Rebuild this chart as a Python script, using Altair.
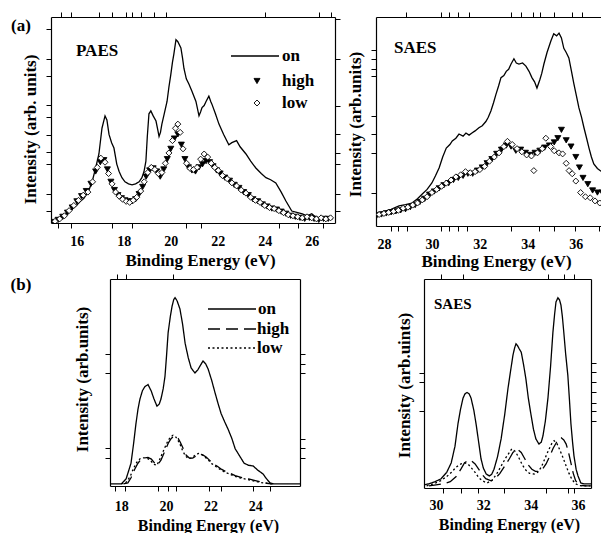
import altair as alt
import pandas as pd

SERIF = "Liberation Serif"

# ---------------- (a) PAES ----------------
tl_on_E = [14.9, 15.1, 15.3, 15.54, 15.75, 15.96, 16.15, 16.3, 16.5, 16.65,
           16.8, 16.94, 17.07, 17.2, 17.28, 17.37, 17.48, 17.58, 17.7, 17.8,
           17.92, 18.05, 18.2, 18.35, 18.5, 18.65, 18.77, 18.86, 18.94, 19.0,
           19.07, 19.15, 19.25, 19.37, 19.45, 19.5, 19.56, 19.62, 19.72, 19.84,
           19.92, 20.0, 20.07, 20.13, 20.22, 20.3, 20.43, 20.5, 20.56, 20.66,
           20.77, 20.9, 21.07, 21.2, 21.27, 21.33, 21.42, 21.5, 21.62, 21.7,
           21.75, 21.9, 22.05, 22.25, 22.47, 22.6, 22.8, 22.95, 23.2, 23.4,
           23.62, 23.85, 24.05, 24.25, 24.47, 24.7, 24.9, 25.15, 25.4, 25.6,
           25.8, 26.0, 26.2, 26.4, 26.6, 26.9]
tl_on_I = [0, 1.5, 3, 4.4, 6.5, 8.3, 10.5, 12, 15.5, 20,
           26.7, 33.5, 46, 52, 50, 43, 39, 36.4, 28.6, 25,
           22, 20, 19, 18.5, 19, 20, 22, 25, 30, 42,
           53, 54.4, 52, 49.5, 45, 42, 44, 48, 53, 59,
           66, 72, 78, 82, 89, 88, 85, 80, 75, 70,
           67.5, 64, 59, 52, 54, 56, 57, 59, 61.6, 59,
           57.7, 53, 48, 43, 38, 39, 40, 37, 33.5, 30,
           26.7, 24, 22, 21, 19.4, 15, 10.7, 5.8, 5, 4.4,
           3.5, 4.5, 2.5, 2, 2.5, 2]

tl_high_E = [15.0, 15.2, 15.4, 15.6, 15.8, 16.0, 16.2, 16.4, 16.6, 16.8,
             17.0, 17.15, 17.3, 17.45, 17.6, 17.75, 17.9, 18.05, 18.2, 18.35,
             18.5, 18.65, 18.8, 18.95, 19.1, 19.25, 19.4, 19.55, 19.7, 19.85,
             20.0, 20.15, 20.3, 20.45, 20.6, 20.75, 20.9, 21.05, 21.2, 21.35,
             21.5, 21.65, 21.8, 21.95, 22.1, 22.3, 22.5, 22.7, 22.9, 23.1,
             23.3, 23.5, 23.7, 23.9, 24.1, 24.3, 24.5, 24.7, 24.9, 25.1,
             25.3, 25.5, 25.7, 25.9, 26.1, 26.3, 26.5, 26.7]
tl_high_I = [0.5, 1.5, 3, 5, 7.5, 10.5, 13, 15.5, 19, 25,
             29.5, 30.5, 26, 20, 16, 13.5, 12, 11, 10.5, 10.5,
             11.5, 14, 17.5, 22.5, 25.5, 26.5, 25, 22.5, 26, 31,
             36, 41, 43, 38, 31, 27, 25.5, 25, 27, 28.5,
             30, 29.5, 27.5, 25.5, 24, 22, 20.5, 18.5, 17, 15,
             13.5, 11.5, 10.5, 9, 8, 7, 6.5, 5.5, 4.5, 3.5,
             3, 2.5, 2, 2.5, 2, 1.5, 2, 2]

tl_low_E = [15.07, 15.27, 15.47, 15.67, 15.87, 16.07, 16.27, 16.47, 16.67, 16.87,
            17.02, 17.2, 17.35, 17.5, 17.65, 17.8, 17.95, 18.1, 18.25, 18.4,
            18.55, 18.72, 18.87, 19.02, 19.17, 19.32, 19.47, 19.62, 19.77, 19.92,
            20.07, 20.2, 20.3, 20.4, 20.52, 20.67, 20.82, 20.97, 21.12, 21.27,
            21.42, 21.57, 21.72, 21.87, 22.02, 22.2, 22.4, 22.6, 22.8, 23.0,
            23.2, 23.4, 23.6, 23.8, 24.0, 24.2, 24.4, 24.6, 24.8, 25.0,
            25.2, 25.4, 25.6, 25.8, 26.0, 26.2, 26.4, 26.6, 26.8]
tl_low_I = [0.8, 2, 3.5, 6, 8.5, 11, 13.5, 15, 20, 27,
            31.5, 29.5, 24, 19, 15, 13, 11.5, 10.5, 10, 11,
            12.5, 15.5, 20, 24.5, 27, 26, 24, 24.5, 29, 34,
            40, 46, 48, 44, 36, 29, 26.5, 26, 27, 31,
            33.5, 32, 29, 27, 25.5, 23, 21.5, 19.5, 18, 16,
            14.5, 12.5, 11, 10, 8.5, 7.5, 7, 6, 5, 4,
            3.5, 3, 2.5, 3, 2.5, 2, 2.5, 2, 2.5]

# ---------------- (a) SAES ----------------
tr_on_E = [27.7, 27.9, 28.08, 28.3, 28.63, 28.9, 29.17, 29.4, 29.6, 29.8,
           30.0, 30.15, 30.3, 30.45, 30.6, 30.75, 30.85, 31.0, 31.13, 31.3,
           31.42, 31.55, 31.67, 31.8, 31.96, 32.1, 32.25, 32.35, 32.46, 32.57,
           32.67, 32.78, 32.88, 33.0, 33.1, 33.2, 33.3, 33.42, 33.52, 33.63,
           33.78, 33.92, 34.05, 34.17, 34.28, 34.38, 34.5, 34.58, 34.67, 34.8,
           34.96, 35.08, 35.2, 35.3, 35.4, 35.5, 35.6, 35.71, 35.82, 35.92,
           36.03, 36.13, 36.24, 36.34, 36.45, 36.55, 36.65, 36.75, 36.9, 37.04,
           37.15, 37.25, 37.35, 37.46]
tr_on_I = [6.2, 6.8, 7.2, 8, 9.6, 10.2, 11, 13, 15.3, 17.5,
           20.6, 24, 27.8, 33, 37.3, 39, 40.7, 42, 44, 43,
           44.5, 43.5, 44.5, 45.5, 47, 48, 50, 52, 55, 59,
           63, 67, 71, 72, 74, 75, 77.5, 80, 78, 77.5,
           78, 76.5, 74, 71, 69, 66, 70, 73, 77.5, 83,
           88.5, 92, 91, 92.3, 90, 85, 83, 80.4, 74, 68,
           62, 56.5, 52, 47, 42, 37.3, 33, 29.7, 27.5, 26.3,
           27, 25.4, 26, 27.3]

tr_high_E = [27.7, 27.9, 28.1, 28.3, 28.5, 28.7, 28.9, 29.1, 29.3, 29.5,
             29.7, 29.9, 30.1, 30.3, 30.5, 30.7, 30.9, 31.1, 31.3, 31.5,
             31.7, 31.9, 32.1, 32.3, 32.5, 32.7, 32.9, 33.1, 33.3, 33.5,
             33.7, 33.9, 34.1, 34.3, 34.5, 34.7, 34.9, 35.1, 35.25, 35.4,
             35.6, 35.8, 36.0, 36.15, 36.3, 36.5, 36.7, 36.9, 37.1, 37.3,
             37.5]
tr_high_I = [5, 5.5, 6, 6.5, 7, 7.5, 8, 9, 10, 11.5,
             13, 15, 16.5, 18, 19.5, 20.5, 22, 23, 24, 25,
             25, 26.5, 28, 30, 32, 34.5, 36.5, 38.5, 38, 36,
             36.5, 35, 34, 35, 36, 37.5, 38.5, 40, 42, 46,
             41, 38, 33, 28, 23, 20, 17, 16, 16, 15.5,
             16]

tr_low_E = [27.8, 28.0, 28.2, 28.4, 28.6, 28.8, 29.0, 29.2, 29.4, 29.6,
            29.8, 30.0, 30.2, 30.4, 30.6, 30.8, 31.0, 31.2, 31.4, 31.6,
            31.8, 32.0, 32.2, 32.4, 32.6, 32.8, 33.0, 33.15, 33.35, 33.55,
            33.75, 33.95, 34.15, 34.25, 34.4, 34.6, 34.75, 34.95, 35.1, 35.3,
            35.45, 35.6, 35.72, 35.85, 36.0, 36.2, 36.4, 36.6, 36.8, 37.0,
            37.2, 37.4]
tr_low_I = [5.5, 6, 6.5, 7, 7.5, 8.5, 9, 10, 11, 12.5,
            14, 16, 17.5, 19, 20.5, 22, 23.5, 24.5, 26, 25.5,
            26, 27, 28.5, 31, 33, 35, 38, 40.5, 39, 37,
            35.5, 34, 33.5, 26.5, 35, 37, 42, 38, 36, 35,
            34.5, 30, 26.5, 25, 21.5, 16, 14, 13.5, 12, 11,
            13, 11.5]

# ---------------- (b) PAES model ----------------
bl_on_E = [17.5, 17.8, 18.0, 18.22, 18.44, 18.55, 18.66, 18.75, 18.84, 18.95,
           19.06, 19.2, 19.34, 19.47, 19.6, 19.7, 19.78, 19.88, 19.96, 20.03,
           20.1, 20.2, 20.28, 20.35, 20.41, 20.5, 20.63, 20.75, 20.86, 21.0,
           21.13, 21.3, 21.42, 21.53, 21.66, 21.78, 21.89, 22.05, 22.2, 22.33,
           22.47, 22.63, 22.78, 22.95, 23.1, 23.3, 23.5, 23.7, 23.9, 24.13,
           24.35, 24.5, 24.66, 24.85, 25.2, 25.6, 26.0]
bl_on_I = [1, 1, 1, 3.4, 11, 20, 30, 37, 42, 46,
           48, 49, 46, 42, 38.6, 39.5, 42, 47, 53, 63,
           74, 82, 87, 90, 91, 89.5, 85.5, 78, 69, 62,
           57, 54.6, 56, 58, 60.4, 59, 56.5, 51, 45, 40,
           35, 31, 27.5, 23, 18, 14.5, 11, 10, 9.7, 7.5,
           5.8, 3.5, 1.5, 1, 1, 1, 1]

bl_high_E = [18.1, 18.3, 18.44, 18.6, 18.75, 18.9, 19.05, 19.2, 19.35, 19.5,
             19.62, 19.78, 19.9, 20.0, 20.12, 20.24, 20.35, 20.45, 20.55, 20.65,
             20.78, 20.9, 21.05, 21.2, 21.35, 21.5, 21.65, 21.8, 21.95, 22.1,
             22.3, 22.5, 22.7, 22.9, 23.1, 23.4, 23.7, 24.0, 24.3, 24.6,
             24.8]
bl_high_I = [1, 1.5, 4, 8, 11, 13, 13.5, 13.8, 13, 11,
             10, 12.5, 15.5, 18, 21, 23, 24, 24, 23, 21,
             18, 15, 13.5, 13.5, 14.5, 15.5, 15, 14, 12.5, 11,
             9.5, 8, 6.8, 6, 5, 4, 3.4, 2.6, 1.8, 1.2,
             1]

bl_low_E = [18.0, 18.2, 18.4, 18.55, 18.7, 18.85, 19.0, 19.15, 19.3, 19.45,
            19.6, 19.72, 19.85, 19.97, 20.1, 20.22, 20.32, 20.42, 20.52, 20.62,
            20.75, 20.88, 21.0, 21.15, 21.3, 21.45, 21.6, 21.75, 21.9, 22.05,
            22.25, 22.45, 22.65, 22.85, 23.05, 23.35, 23.65, 23.95, 24.25, 24.55,
            24.75]
bl_low_I = [1, 1.5, 4.5, 8.5, 11.5, 13.2, 13.6, 13.5, 12.5, 10.5,
            10, 12.8, 16, 19, 22, 23.8, 24.5, 24, 22.5, 20.5,
            17, 14.5, 13.2, 13.5, 14.8, 15.7, 15.2, 14, 12.5, 10.8,
            9.3, 7.8, 6.6, 5.8, 4.8, 3.8, 3.2, 2.4, 1.7, 1.2,
            1]

# ---------------- (b) SAES model ----------------
br_on_E = [29.5, 29.7, 29.95, 30.2, 30.45, 30.64, 30.8, 30.93, 31.04, 31.14,
           31.22, 31.31, 31.4, 31.48, 31.6, 31.7, 31.8, 31.9, 32.0, 32.12,
           32.25, 32.35, 32.45, 32.6, 32.75, 32.9, 33.04, 33.15, 33.25, 33.32,
           33.38, 33.45, 33.52, 33.6, 33.7, 33.8, 33.9, 34.02, 34.12, 34.22,
           34.35, 34.45, 34.52, 34.62, 34.73, 34.84, 34.94, 35.01, 35.07, 35.15,
           35.22, 35.28, 35.34, 35.4, 35.48, 35.57, 35.64, 35.7, 35.77, 35.83,
           35.92, 36.0, 36.12, 36.25, 36.4, 36.55]
br_on_I = [1.5, 2, 3, 4.3, 7.5, 12, 20, 31, 38, 43,
           45, 45.7, 45, 43, 37, 30, 22, 14, 9.5, 6.7,
           5.8, 6.5, 9, 15, 23.5, 35, 47.6, 56, 63.5, 67,
           69, 68, 66.5, 65, 59, 52, 43, 34.6, 28, 23.5,
           21, 22, 25, 32, 43, 58, 74.5, 83, 89, 91,
           90, 87.5, 82, 74.5, 64, 54, 42, 31, 22, 15.4,
           9, 5.8, 2.4, 2, 2, 2]

br_high_E = [29.7, 30.0, 30.3, 30.6, 30.85, 31.05, 31.2, 31.35, 31.5, 31.65,
             31.8, 31.95, 32.1, 32.33, 32.5, 32.7, 32.9, 33.1, 33.25, 33.43,
             33.6, 33.75, 33.9, 34.05, 34.2, 34.35, 34.5, 34.65, 34.8, 34.95,
             35.1, 35.2, 35.29, 35.4, 35.5, 35.6, 35.7, 35.8, 35.9, 36.0,
             36.15, 36.35, 36.55]
br_high_I = [1, 1.5, 2, 3, 5.5, 9, 12, 13.2, 13, 11.5,
             9, 6.5, 4.5, 3.4, 4.5, 7, 10.5, 14, 17, 18.7,
             17, 14, 11, 9, 8, 8, 9, 11.5, 15, 19,
             22, 23.5, 24, 23, 21, 17, 12, 7, 3.5, 2,
             1.2, 1, 1]

br_low_E = [29.6, 29.9, 30.2, 30.45, 30.65, 30.85, 31.05, 31.2, 31.35, 31.5,
            31.65, 31.8, 31.95, 32.15, 32.35, 32.55, 32.75, 32.95, 33.1, 33.2,
            33.35, 33.5, 33.65, 33.8, 33.95, 34.15, 34.3, 34.45, 34.6, 34.75,
            34.9, 34.99, 35.1, 35.2, 35.35, 35.5, 35.62, 35.75, 35.9, 36.05,
            36.25, 36.5]
br_low_I = [1, 2, 3.5, 5.5, 7.5, 10, 11.5, 12, 11.5, 9.5,
            7.5, 5, 3.5, 2.4, 3.5, 6.5, 10.5, 14.5, 17, 18.7,
            17.5, 14.5, 11, 8.5, 7, 6.7, 7.5, 10, 14, 18,
            21.5, 22.6, 21.5, 19, 15, 10.5, 7, 4, 2, 1.2,
            1, 1]

# ---------------- axis tick positions and labels ----------------
tl_x_labels = [16, 18, 20, 22, 24, 26]
tl_x_bottom = [15.2, 15.75, 17.5, 18.35, 20.65, 21.3, 24.6, 25.4, 26.5]
tl_x_top = [15.33, 15.75, 16.94, 17.5, 18.1, 18.35, 18.72, 19.27, 19.8, 24.0, 26.3, 26.8]
tl_y_left = [94.2, 79.6, 71.4, 57.3, 51.5, 42.7, 34.5, 28.6, 14.1, 5.8]
tl_y_right = [99, 79.6, 56.8, 43.2, 34, 28.6, 14.1, 5.8]

tr_x_labels = [28, 30, 32, 34, 36]
tr_x_bottom = [28.3, 28.6, 28.96, 30.4, 30.7, 31.1, 31.46, 33.3, 34.46, 35.1, 35.95, 36.96]
tr_x_top = [28.9, 30.4, 30.7, 31.1, 31.55, 33.3, 33.7, 34.2, 34.5, 35.1, 35.83, 36.25]
tr_y_left = [84, 80, 75, 71.8, 52.6, 44, 35, 15.8]

bl_x_labels = [18, 20, 22, 24]
bl_x_bottom = [17.72, 18.17, 19.65, 20.1, 20.45, 21.95, 22.46, 23.9, 24.65]
bl_x_top = [17.8, 18.2, 20.3]
bl_y_left = [63.8, 54.6, 18.4, 13.5]
bl_y_right = [63.8, 59, 54.6, 22.7, 18.4, 13.5]

br_x_labels = [30, 32, 34, 36]
br_x_bottom = [30.3, 31.06, 31.78, 32.88, 34.66, 35.58, 35.83]
br_x_top = [30.2, 31.15, 34.74, 35.4, 35.83]
br_y_left = [55, 50.5, 37]
br_y_right = [59.6, 55.3, 50.5, 45.7, 40.9, 37, 32.2]

X_TITLE = "Binding Energy (eV)"
legend_names = ["on", "high", "low"]
panel_tags = ["(a)", "(b)"]


def series_df(E, I, name):
    return pd.DataFrame({"E": E, "I": I, "series": [name] * len(E)})


def make_axis(orient, ticks, labels=None, title=None, title_pad=6, label_pad=6,
              title_x=None, title_y=None, tick_size=5, title_size=17):
    p = dict(orient=orient, grid=False, domain=True, domainColor="black",
             domainWidth=1.2, ticks=True, tickColor="black", tickWidth=1,
             tickSize=tick_size, title=title)
    if labels:
        vals = sorted(set(ticks) | set(labels))
        arr = "[" + ",".join(str(v) for v in labels) + "]"
        test = f"indexof({arr}, datum.value) >= 0"
        p.update(values=vals, labels=True,
                 labelExpr=f"{test} ? format(datum.value, '.0f') : ''",
                 tickOpacity={"condition": {"test": test, "value": 0}, "value": 1},
                 labelFont=SERIF, labelFontSize=14, labelFontWeight="bold",
                 labelColor="black", labelPadding=label_pad,
                 labelOverlap=False, labelFlush=False)
    else:
        p.update(values=ticks, labels=False)
    if title:
        p.update(titleFont=SERIF, titleFontSize=title_size, titleFontWeight="bold",
                 titleColor="black", titlePadding=title_pad)
        if title_x is not None:
            p["titleX"] = title_x
        if title_y is not None:
            p["titleY"] = title_y
    return alt.Axis(**p)


def one():
    return alt.Chart(pd.DataFrame({"k": [0]}))


def note(text, x, y, size, align="left"):
    return alt.Chart(pd.DataFrame({"t": [text]})).mark_text(
        font=SERIF, fontSize=size, fontWeight="bold", color="black",
        align=align, baseline="middle"
    ).encode(text="t:N", x=alt.value(x), y=alt.value(y))


def key_line(x1, x2, y, dash):
    return one().mark_rule(color="black", strokeWidth=1.3, strokeDash=dash).encode(
        x=alt.value(x1), x2=alt.value(x2), y=alt.value(y))


def key_symbol(x, y, shape, fill):
    return one().mark_point(shape=shape, size=36, fill=fill, stroke="black",
                            strokeWidth=0.9, opacity=1, filled=True).encode(
        x=alt.value(x), y=alt.value(y))


Y_SCALE = alt.Scale(domain=[0, 100], nice=False, zero=False)
DASHES = alt.Scale(domain=["on", "high", "low"], range=[[1, 0], [12, 6], [2, 2.5]])


def points_layer(df, xs):
    return alt.Chart(df).mark_point(size=36, strokeWidth=0.9, opacity=1,
                                    stroke="black", clip=True).encode(
        x=alt.X("E:Q", scale=xs, axis=None),
        y=alt.Y("I:Q", scale=Y_SCALE, axis=None),
        shape=alt.Shape("series:N", scale=alt.Scale(domain=["high", "low"],
                        range=["triangle-down", "diamond"]), legend=None),
        fill=alt.Fill("series:N", scale=alt.Scale(domain=["high", "low"],
                      range=["black", "white"]), legend=None),
    )


# ---------- top-left panel ----------
tl_xs = alt.Scale(domain=[14.9, 26.99], nice=False, zero=False)
tl_lines = series_df(tl_on_E, tl_on_I, "on")
tl_pts = pd.concat([series_df(tl_high_E, tl_high_I, "high"),
                    series_df(tl_low_E, tl_low_I, "low")])

tl_line = alt.Chart(tl_lines).mark_line(color="black", strokeWidth=1.3, clip=True).encode(
    x=alt.X("E:Q", scale=tl_xs,
            axis=make_axis("bottom", tl_x_bottom, tl_x_labels, X_TITLE,
                           title_pad=4, label_pad=6, title_x=149)),
    y=alt.Y("I:Q", scale=Y_SCALE,
            axis=make_axis("left", tl_y_left, title="Intensity (arb. units)",
                           title_pad=6, title_y=112)),
)
tl_frame = alt.Chart(tl_lines).mark_line(strokeOpacity=0, clip=True).encode(
    x=alt.X("E:Q", scale=tl_xs, axis=make_axis("top", tl_x_top)),
    y=alt.Y("I:Q", scale=Y_SCALE, axis=make_axis("right", tl_y_right)),
)
tl = alt.layer(
    tl_line, points_layer(tl_pts, tl_xs), tl_frame,
    note(panel_tags[0], -30, 9, 17, "center"), note("PAES", 25, 34, 17),
    key_line(180, 228, 39, [1, 0]), note(legend_names[0], 231, 39, 17),
    key_symbol(206, 64, "triangle-down", "black"), note(legend_names[1], 231, 64, 17),
    key_symbol(206, 86, "diamond", "white"), note(legend_names[2], 231, 86, 17),
).resolve_axis(x="independent", y="independent").properties(width=284, height=206)

# ---------- top-right panel ----------
tr_xs = alt.Scale(domain=[27.67, 37.05], nice=False, zero=False)
tr_lines = series_df(tr_on_E, tr_on_I, "on")
tr_pts = pd.concat([series_df(tr_high_E, tr_high_I, "high"),
                    series_df(tr_low_E, tr_low_I, "low")])

tr_line = alt.Chart(tr_lines).mark_line(color="black", strokeWidth=1.3, clip=True).encode(
    x=alt.X("E:Q", scale=tr_xs,
            axis=make_axis("bottom", tr_x_bottom, tr_x_labels, X_TITLE,
                           title_pad=2, label_pad=6, title_x=120)),
    y=alt.Y("I:Q", scale=Y_SCALE,
            axis=make_axis("left", tr_y_left, title="Intensity (arb.units)",
                           title_pad=6, title_y=107)),
)
tr_frame = alt.Chart(tr_lines).mark_line(strokeOpacity=0, clip=True).encode(
    x=alt.X("E:Q", scale=tr_xs, axis=make_axis("top", tr_x_top)),
    y=alt.Y("I:Q", scale=Y_SCALE, axis=None),
)
tr = alt.layer(
    tr_line, points_layer(tr_pts, tr_xs), tr_frame,
    note("SAES", 18, 31, 17),
).resolve_axis(x="independent", y="independent").properties(width=225, height=209)

# ---------- bottom-left panel ----------
bl_xs = alt.Scale(domain=[17.5, 26.0], nice=False, zero=False)
bl_lines = pd.concat([series_df(bl_on_E, bl_on_I, "on"),
                      series_df(bl_high_E, bl_high_I, "high"),
                      series_df(bl_low_E, bl_low_I, "low")])

bl_line = alt.Chart(bl_lines).mark_line(color="black", strokeWidth=1.3, clip=True).encode(
    x=alt.X("E:Q", scale=bl_xs,
            axis=make_axis("bottom", bl_x_bottom, bl_x_labels, X_TITLE,
                           title_pad=4, label_pad=8, title_x=98, title_size=16)),
    y=alt.Y("I:Q", scale=Y_SCALE,
            axis=make_axis("left", bl_y_left, title="Intensity (arb.units)",
                           title_pad=13, title_y=100)),
    strokeDash=alt.StrokeDash("series:N", scale=DASHES, legend=None),
)
bl_frame = alt.Chart(bl_lines).mark_line(strokeOpacity=0, clip=True).encode(
    x=alt.X("E:Q", scale=bl_xs, axis=make_axis("top", bl_x_top)),
    y=alt.Y("I:Q", scale=Y_SCALE, axis=make_axis("right", bl_y_right)),
)
bl = alt.layer(
    bl_line, bl_frame,
    key_line(98, 146, 30, [1, 0]), note(legend_names[0], 148, 30, 17),
    key_line(98, 146, 50, [12, 6]), note(legend_names[1], 147, 50, 17),
    key_line(98, 146, 69, [2, 2.5]), note(legend_names[2], 147, 69, 17),
).resolve_axis(x="independent", y="independent").properties(width=190, height=207)

# ---------- bottom-right panel ----------
br_xs = alt.Scale(domain=[29.49, 36.55], nice=False, zero=False)
br_lines = pd.concat([series_df(br_on_E, br_on_I, "on"),
                      series_df(br_high_E, br_high_I, "high"),
                      series_df(br_low_E, br_low_I, "low")])

br_line = alt.Chart(br_lines).mark_line(color="black", strokeWidth=1.3, clip=True).encode(
    x=alt.X("E:Q", scale=br_xs,
            axis=make_axis("bottom", br_x_bottom, br_x_labels, X_TITLE,
                           title_pad=4, label_pad=5, title_x=85, title_size=16)),
    y=alt.Y("I:Q", scale=Y_SCALE,
            axis=make_axis("left", br_y_left, title="Intensity (arb.uints)",
                           title_pad=5, title_y=106)),
    strokeDash=alt.StrokeDash("series:N", scale=DASHES, legend=None),
)
br_frame = alt.Chart(br_lines).mark_line(strokeOpacity=0, clip=True).encode(
    x=alt.X("E:Q", scale=br_xs, axis=make_axis("top", br_x_top)),
    y=alt.Y("I:Q", scale=Y_SCALE, axis=make_axis("right", br_y_right)),
)
br = alt.layer(
    br_line, br_frame, note("SAES", 10, 25, 15),
).resolve_axis(x="independent", y="independent").properties(width=167, height=209)

# first cell of the lower row: carries the "(b)" tag and shifts the lower panels right
spacer = alt.layer(
    one().mark_point(opacity=0).encode(x=alt.value(0), y=alt.value(0)),
    note(panel_tags[1], -30, 5.5, 17, "center"),
).properties(width=22, height=207)

IND = dict(strokeDash="independent", shape="independent", fill="independent")
row1 = alt.hconcat(tl, tr, spacing=5).resolve_scale(**IND)
pair2 = alt.hconcat(bl, br, spacing=89).resolve_scale(**IND)
row2 = alt.hconcat(spacer, pair2, spacing=0).resolve_scale(**IND)

chart = alt.vconcat(row1, row2, spacing=4).resolve_scale(**IND).properties(
    padding={"left": 2, "top": 3, "right": 0, "bottom": 0}
).configure_view(stroke=None)

chart.save("out.html", embed_options={"renderer": "svg", "actions": False})
